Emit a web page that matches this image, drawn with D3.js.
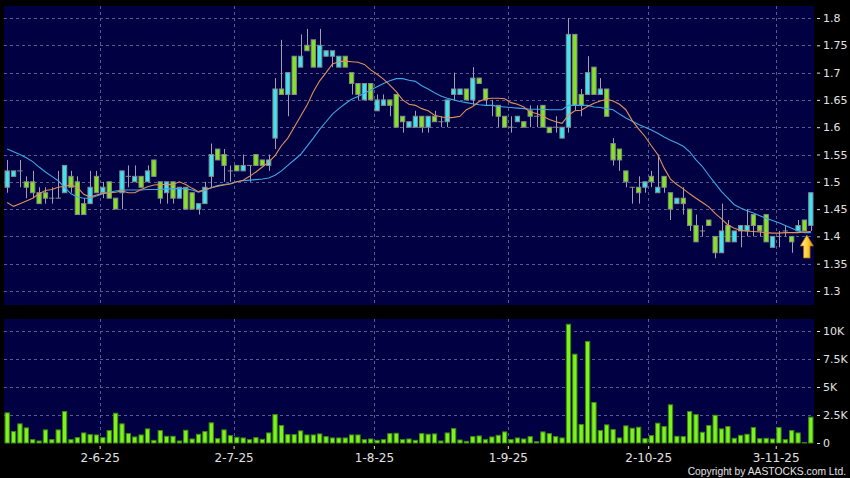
<!DOCTYPE html>
<html><head><meta charset="utf-8">
<script src="https://cdn.jsdelivr.net/npm/d3@7"></script>
<style>html,body{margin:0;padding:0;background:#000;}svg{display:block}</style>
</head><body><svg id="c" width="850" height="478"></svg>
<script>
// ---- data (trading days 13 May 2025 .. 11 Nov 2025) ----
const openP = [1.49,1.51,1.52,1.50,1.50,1.48,1.48,1.47,1.47,1.48, 1.51,1.50,1.46,1.46,1.51,1.48,1.50,1.47,1.48,1.51, 1.50,1.51,1.50,1.54,1.50,1.48,1.50,1.47,1.49,1.48, 1.45,1.46,1.51,1.56,1.55,1.52,1.53,1.52,1.53,1.55, 1.54,1.53,1.58,1.67,1.66,1.73,1.71,1.75,1.76,1.71, 1.73,1.73,1.71,1.73,1.70,1.68,1.65,1.68,1.63,1.64, 1.65,1.66,1.62,1.60,1.60,1.62,1.60,1.62,1.61,1.61, 1.66,1.66,1.67,1.65,1.69,1.67,1.64,1.64,1.62,1.60, 1.61,1.61,1.63,1.62,1.64,1.60,1.60,1.58,1.60,1.77, 1.66,1.66,1.71,1.66,1.67,1.57,1.56,1.52,1.49,1.49, 1.49,1.51,1.48,1.51,1.48,1.46,1.47,1.45,1.42,1.41, 1.43,1.40,1.37,1.42,1.39,1.41,1.41,1.44,1.42,1.44, 1.38,1.40,1.41,1.40,1.41,1.43,1.42];
const highP = [1.54,1.52,1.54,1.51,1.52,1.49,1.49,1.49,1.52,1.53, 1.52,1.51,1.47,1.52,1.52,1.50,1.50,1.47,1.52,1.53, 1.53,1.51,1.53,1.54,1.50,1.50,1.50,1.49,1.49,1.48, 1.46,1.50,1.57,1.56,1.56,1.53,1.53,1.55,1.53,1.55, 1.54,1.55,1.69,1.76,1.70,1.73,1.77,1.78,1.76,1.78, 1.74,1.74,1.73,1.73,1.70,1.68,1.68,1.68,1.66,1.66, 1.65,1.66,1.62,1.61,1.63,1.62,1.62,1.63,1.62,1.65, 1.70,1.67,1.67,1.71,1.69,1.67,1.65,1.64,1.62,1.62, 1.62,1.61,1.64,1.64,1.64,1.60,1.62,1.60,1.80,1.77, 1.67,1.73,1.71,1.69,1.67,1.58,1.56,1.52,1.49,1.51, 1.50,1.52,1.55,1.51,1.48,1.47,1.49,1.45,1.44,1.42, 1.43,1.40,1.46,1.43,1.41,1.42,1.45,1.44,1.42,1.44, 1.40,1.41,1.42,1.40,1.43,1.43,1.48];
const lowP = [1.48,1.51,1.49,1.47,1.47,1.46,1.46,1.46,1.47,1.48, 1.48,1.44,1.44,1.46,1.48,1.47,1.47,1.45,1.45,1.49, 1.50,1.49,1.50,1.51,1.46,1.46,1.46,1.47,1.45,1.45, 1.44,1.46,1.49,1.54,1.50,1.50,1.52,1.52,1.50,1.53, 1.53,1.52,1.56,1.66,1.62,1.66,1.71,1.74,1.71,1.71, 1.73,1.71,1.71,1.71,1.66,1.65,1.65,1.65,1.63,1.64, 1.62,1.60,1.59,1.60,1.60,1.59,1.59,1.61,1.60,1.60, 1.65,1.66,1.65,1.64,1.68,1.64,1.62,1.60,1.60,1.59, 1.61,1.60,1.60,1.60,1.60,1.59,1.59,1.58,1.59,1.63, 1.62,1.66,1.66,1.66,1.62,1.53,1.52,1.49,1.46,1.46, 1.48,1.49,1.48,1.48,1.43,1.46,1.44,1.41,1.39,1.40, 1.42,1.36,1.37,1.39,1.39,1.38,1.40,1.40,1.40,1.39, 1.38,1.38,1.40,1.37,1.41,1.41,1.41];
const closeP = [1.52,1.52,1.52,1.49,1.48,1.46,1.47,1.47,1.47,1.53, 1.49,1.44,1.44,1.49,1.48,1.49,1.47,1.45,1.52,1.51, 1.51,1.49,1.52,1.51,1.47,1.50,1.47,1.49,1.45,1.45, 1.46,1.49,1.55,1.54,1.53,1.52,1.52,1.53,1.53,1.53, 1.53,1.54,1.67,1.66,1.70,1.66,1.73,1.74,1.71,1.75, 1.74,1.74,1.73,1.71,1.68,1.66,1.68,1.65,1.65,1.65, 1.64,1.60,1.61,1.61,1.62,1.60,1.62,1.61,1.61,1.65, 1.67,1.67,1.65,1.69,1.68,1.65,1.64,1.62,1.60,1.60, 1.62,1.60,1.62,1.62,1.60,1.59,1.60,1.60,1.77,1.64, 1.64,1.70,1.66,1.67,1.62,1.54,1.54,1.50,1.49,1.48, 1.50,1.50,1.49,1.49,1.45,1.47,1.46,1.42,1.39,1.41, 1.42,1.37,1.41,1.39,1.41,1.42,1.42,1.42,1.41,1.39, 1.40,1.40,1.41,1.39,1.42,1.41,1.48];
const volumeK = [2.69,1.02,1.71,1.35,0.30,0.18,1.17,0.30,1.17,2.81, 0.30,0.48,0.90,0.75,0.72,0.48,1.11,2.66,1.71,0.84, 0.54,0.72,1.26,0.24,1.11,0.60,0.60,0.18,1.14,0.36, 0.78,1.02,1.80,0.39,1.17,0.66,0.51,0.45,0.30,0.48, 0.33,0.90,2.54,1.56,0.75,0.75,1.08,0.72,0.72,0.81, 0.57,0.45,0.45,0.45,0.72,0.72,0.30,0.36,0.24,0.30, 0.84,0.87,0.30,0.36,0.24,0.84,0.78,0.81,0.18,0.90, 1.29,0.27,0.15,0.57,0.63,0.30,0.54,0.69,0.99,0.30, 0.45,0.36,0.57,0.12,0.99,0.84,0.57,0.45,10.6,7.93, 1.65,9.07,3.62,1.11,1.62,1.20,0.45,1.53,1.32,1.41, 0.39,0.66,1.77,1.47,3.41,0.60,0.57,2.81,2.54,0.96, 1.56,2.48,1.26,1.47,0.42,0.69,0.78,1.38,0.39,0.42, 0.36,1.38,0.30,1.11,0.90,0.03,2.31];
const ma10 = [1.462,1.455,1.46,1.465,1.47,1.478,1.484,1.486,1.49,1.492, 1.494,1.49,1.477,1.472,1.476,1.479,1.48,1.481,1.483,1.48, 1.48,1.486,1.491,1.494,1.495,1.495,1.495,1.50,1.495,1.488, 1.482,1.486,1.489,1.492,1.494,1.496,1.50,1.503,1.51,1.518, 1.527,1.536,1.548,1.566,1.58,1.60,1.62,1.64,1.665,1.685, 1.70,1.716,1.72,1.721,1.72,1.719,1.715,1.705,1.697,1.688, 1.677,1.665,1.65,1.642,1.64,1.634,1.63,1.622,1.619,1.617, 1.618,1.62,1.632,1.638,1.647,1.652,1.653,1.653,1.652,1.645, 1.642,1.637,1.628,1.625,1.62,1.614,1.61,1.607,1.622,1.63, 1.631,1.638,1.644,1.648,1.651,1.648,1.642,1.632,1.612,1.597, 1.583,1.566,1.55,1.525,1.505,1.495,1.487,1.478,1.47,1.462, 1.454,1.442,1.432,1.421,1.415,1.411,1.41,1.409,1.408,1.407, 1.406,1.406,1.407,1.407,1.407,1.408,1.409];
const ma20 = [1.56,1.555,1.55,1.544,1.537,1.527,1.518,1.51,1.502,1.49, 1.478,1.472,1.47,1.47,1.474,1.478,1.481,1.483,1.485,1.485, 1.485,1.485,1.486,1.486,1.486,1.487,1.487,1.488,1.487,1.485, 1.481,1.484,1.489,1.493,1.495,1.497,1.50,1.502,1.503,1.504, 1.505,1.507,1.512,1.52,1.53,1.54,1.55,1.565,1.58,1.596, 1.61,1.624,1.634,1.643,1.651,1.656,1.662,1.668,1.674,1.68, 1.685,1.689,1.689,1.686,1.684,1.676,1.67,1.663,1.657,1.653, 1.65,1.647,1.645,1.643,1.641,1.64,1.64,1.638,1.637,1.636, 1.635,1.634,1.633,1.633,1.633,1.632,1.632,1.632,1.64,1.64, 1.64,1.64,1.637,1.636,1.634,1.632,1.624,1.617,1.611,1.605, 1.60,1.595,1.589,1.582,1.576,1.571,1.565,1.555,1.54,1.528, 1.512,1.497,1.482,1.47,1.458,1.452,1.447,1.443,1.438,1.433, 1.429,1.425,1.42,1.415,1.41,1.407,1.407];
const priceTicks = [1.3,1.35,1.4,1.45,1.5,1.55,1.6,1.65,1.7,1.75,1.8];
const volTicks = [0,2.5,5,7.5,10];
const dateLabels = ["2-6-25","2-7-25","1-8-25","1-9-25","2-10-25","3-11-25"];
const dateIdx = [14,35,57,78,100,120];

// ---- layout ----
const W=850,H=478, L=4, R=814, mTop=6, mBot=305, vTop=319, vBot=443;
const n = closeP.length;
const NAVY="#000042", GRID="#5a5a8e", TXT="#e2e2e2";
const svg = d3.select("#c");
svg.append("rect").attr("width",W).attr("height",H).attr("fill","#000");

const x = d3.scaleBand().domain(d3.range(n)).range([L,R]).paddingInner(0.17).paddingOuter(0.085);
const bw = x.bandwidth();
const cx = i => x(i) + bw/2;
const xg = d3.scaleLinear().domain([-1, n-1]).range([L, R]); // boundary after each day
const y = d3.scaleLinear().domain([1.3,1.8]).range([291,18]);
const yv = d3.scaleLinear().domain([0,10]).range([443,331]);

// panels
svg.append("rect").attr("x",L).attr("y",mTop).attr("width",R-L).attr("height",mBot-mTop).attr("fill",NAVY);
svg.append("rect").attr("x",L).attr("y",vTop).attr("width",R-L).attr("height",vBot-vTop).attr("fill",NAVY);

// grid
const g = svg.append("g").attr("stroke",GRID).attr("stroke-width",1).attr("stroke-dasharray","3,3").attr("fill","none");
priceTicks.forEach(t => g.append("line").attr("x1",L).attr("x2",R).attr("y1",Math.round(y(t))+0.5).attr("y2",Math.round(y(t))+0.5));
volTicks.filter(t=>t>0).forEach(t => g.append("line").attr("x1",L).attr("x2",R).attr("y1",Math.round(yv(t))+0.5).attr("y2",Math.round(yv(t))+0.5));
dateIdx.forEach(i => {
  const gx = Math.round(xg(i))+0.5;
  g.append("line").attr("x1",gx).attr("x2",gx).attr("y1",mTop).attr("y2",mBot);
  g.append("line").attr("x1",gx).attr("x2",gx).attr("y1",vTop).attr("y2",vBot);
});

// volume bars
svg.append("g").selectAll("rect").data(volumeK).join("rect")
  .attr("x",(d,i)=>x(i)+0.5).attr("width",bw-1)
  .attr("y",d=>yv(d)).attr("height",d=>Math.max(0,vBot-yv(d)))
  .attr("fill","#7ef21e").attr("stroke","#3d8a0e").attr("stroke-width",1);

// candles
const cg = svg.append("g");
cg.selectAll("line.w").data(closeP).join("line").attr("class","w")
  .attr("x1",(d,i)=>Math.round(cx(i))+0.5).attr("x2",(d,i)=>Math.round(cx(i))+0.5)
  .attr("y1",(d,i)=>y(highP[i])).attr("y2",(d,i)=>y(lowP[i]))
  .attr("stroke","#a0a0a8").attr("stroke-width",1);
cg.selectAll("rect").data(closeP).join("rect")
  .attr("x",(d,i)=>x(i)+0.5).attr("width",bw-1)
  .attr("y",(d,i)=>y(Math.max(openP[i],d)))
  .attr("height",(d,i)=>Math.max(0.01, Math.abs(y(openP[i])-y(d))))
  .attr("fill",(d,i)=> d>openP[i] ? "#3ae6f4" : (d<openP[i] ? "#80e620" : "#909090"))
  .attr("stroke","#8a8a8a").attr("stroke-width",1);

// moving averages
const line = d3.line().x((d,i)=>cx(i)).y(d=>y(d));
svg.append("path").datum(ma20).attr("d",line).attr("fill","none").attr("stroke","#3ea6e6").attr("stroke-width",1.1);
svg.append("path").datum(ma10).attr("d",line).attr("fill","none").attr("stroke","#e0905a").attr("stroke-width",1.1);

// arrow marker under last bar
const defs = svg.append("defs");
const gr = defs.append("linearGradient").attr("id","ag").attr("x1","0").attr("x2","1").attr("y1","0").attr("y2","0");
gr.append("stop").attr("offset","0%").attr("stop-color","#fff0a0");
gr.append("stop").attr("offset","50%").attr("stop-color","#ffd040");
gr.append("stop").attr("offset","100%").attr("stop-color","#e09a00");
const ax = cx(n-1) - 4, ay = y(lowP[n-1]) + 4;
svg.append("path")
  .attr("d",`M${ax},${ay} L${ax+6.5},${ay+11} L${ax+3.2},${ay+11} L${ax+3.2},${ay+23} L${ax-3.2},${ay+23} L${ax-3.2},${ay+11} L${ax-6.5},${ay+11} Z`)
  .attr("fill","url(#ag)").attr("stroke","#b87400").attr("stroke-width",0.8);

// axes
const styleAxis = sel => {
  sel.select(".domain").remove();
  sel.selectAll(".tick line").attr("stroke",TXT);
  sel.selectAll(".tick text").attr("fill",TXT).style("font-family","'DejaVu Sans',Verdana,sans-serif");
};
svg.append("g").attr("transform","translate(817,0)")
  .call(d3.axisRight(y).tickValues(priceTicks).tickSize(3).tickPadding(3).tickFormat(d=>String(+d.toFixed(2))))
  .call(styleAxis).selectAll("text").style("font-size","11px");
svg.append("g").attr("transform","translate(817,0)")
  .call(d3.axisRight(yv).tickValues(volTicks).tickSize(3).tickPadding(3).tickFormat(d=> d===0 ? "0" : d+"K"))
  .call(styleAxis).selectAll("text").style("font-size","11px");
svg.append("g").attr("transform","translate(0,446)")
  .call(d3.axisBottom(xg).tickValues(dateIdx).tickSize(3).tickPadding(4).tickFormat((d,k)=>dateLabels[k]))
  .call(styleAxis).selectAll("text").style("font-size","12px");

svg.append("text").attr("x",846).attr("y",474.5).attr("text-anchor","end")
  .attr("fill",TXT).style("font-family","'Liberation Sans',Arial,sans-serif").style("font-size","10.3px")
  .text("Copyright by AASTOCKS.com Ltd.");
</script>
</body></html>
